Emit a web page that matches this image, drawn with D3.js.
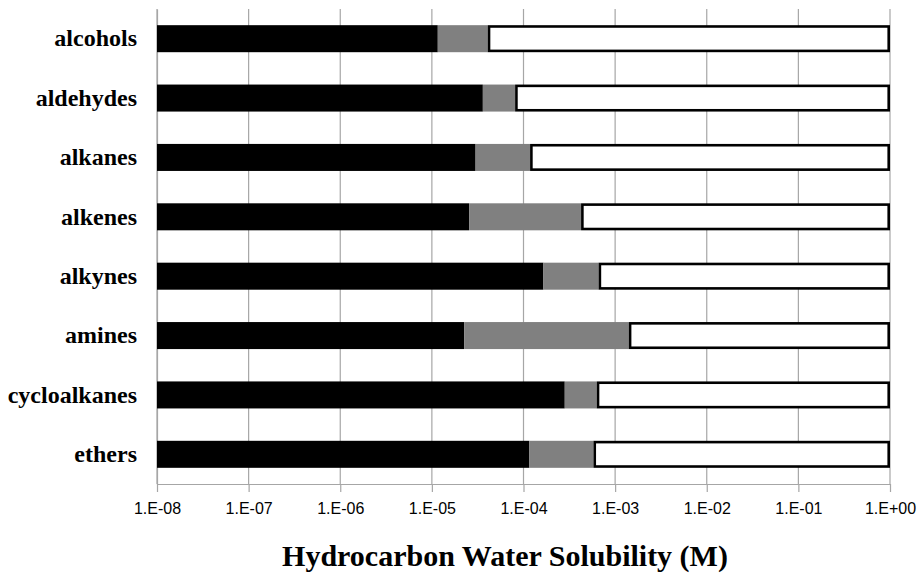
<!DOCTYPE html>
<html lang="en">
<head>
  <meta charset="UTF-8">
  <title>Hydrocarbon Water Solubility</title>
  <script src="https://d3js.org/d3.v7.min.js"></script>
  <style>
    body { margin: 0; background: #fff; }
    .x-axis text { font-family: "Liberation Sans", Arial, sans-serif; font-size: 16px; fill: #000; }
    .y-axis text { font-family: "Liberation Serif", "Times New Roman", serif; font-weight: bold; font-size: 24px; fill: #000; }
    .title { font-family: "Liberation Serif", "Times New Roman", serif; font-weight: bold; font-size: 30px; text-anchor: middle; }
  </style>
</head>
<body>
  <div id="chart"></div>
  <script>
    // values (M)
    const categories = ["alcohols", "aldehydes", "alkanes", "alkenes", "alkynes", "amines", "cycloalkanes", "ethers"];
    const lowValues  = [1.16e-5, 3.6e-5, 3.0e-5, 2.55e-5, 1.65e-4, 2.25e-5, 2.82e-4, 1.16e-4];
    const highValues = [4.07e-5, 8.1e-5, 1.18e-4, 4.25e-4, 6.6e-4, 1.41e-3, 6.3e-4, 5.8e-4];
    const tickValues = [1e-8, 1e-7, 1e-6, 1e-5, 1e-4, 1e-3, 1e-2, 1e-1, 1];
    const tickLabels = ["1.E-08", "1.E-07", "1.E-06", "1.E-05", "1.E-04", "1.E-03", "1.E-02", "1.E-01", "1.E+00"];
    const xMin = 1e-8, xMax = 1;

    const W = 919, H = 574;
    const margin = { top: 9, right: 29, bottom: 90, left: 157 };
    const width = W - margin.left - margin.right,
          height = H - margin.top - margin.bottom;

    const svg = d3.select("#chart").append("svg")
      .attr("width", W).attr("height", H);
    const g = svg.append("g")
      .attr("transform", `translate(${margin.left},${margin.top})`);

    const x = d3.scaleLog().domain([xMin, xMax]).range([0, width]);
    const y = d3.scaleBand().domain(categories).range([0, height])
      .paddingInner(0.545).paddingOuter(0.2725);

    // gridlines
    g.append("g").selectAll("line")
      .data(tickValues)
      .join("line")
      .attr("x1", d => x(d)).attr("x2", d => x(d))
      .attr("y1", 0).attr("y2", height)
      .attr("stroke", "#a6a6a6").attr("stroke-width", 1.2);

    // bottom axis
    const xAxis = g.append("g")
      .attr("class", "x-axis")
      .attr("transform", `translate(0,${height})`)
      .call(d3.axisBottom(x).tickValues(tickValues)
        .tickFormat((d, i) => tickLabels[i]).tickSize(8).tickSizeOuter(0).tickPadding(11));
    xAxis.select(".domain").attr("stroke", "#a6a6a6").attr("stroke-width", 1.2);
    xAxis.selectAll(".tick line").attr("stroke", "#a6a6a6").attr("stroke-width", 1.2);

    // left axis
    const yAxis = g.append("g")
      .attr("class", "y-axis")
      .call(d3.axisLeft(y).tickSize(0).tickPadding(20));
    yAxis.select(".domain").attr("stroke", "#a6a6a6").attr("stroke-width", 1.2);

    const rows = categories.map((c, i) => ({ c, lo: lowValues[i], hi: highValues[i] }));

    // black segment
    g.selectAll(".blk").data(rows).join("rect")
      .attr("x", x(xMin))
      .attr("y", d => y(d.c))
      .attr("width", d => x(d.lo) - x(xMin))
      .attr("height", y.bandwidth())
      .attr("fill", "#000");

    // gray segment
    g.selectAll(".gry").data(rows).join("rect")
      .attr("x", d => x(d.lo))
      .attr("y", d => y(d.c))
      .attr("width", d => x(d.hi) - x(d.lo))
      .attr("height", y.bandwidth())
      .attr("fill", "#808080");

    // white outlined segment
    g.selectAll(".wht").data(rows).join("rect")
      .attr("x", d => x(d.hi) + 1.3)
      .attr("y", d => y(d.c) + 1.3)
      .attr("width", d => x(xMax) - x(d.hi) - 2.6)
      .attr("height", y.bandwidth() - 2.6)
      .attr("fill", "#fff")
      .attr("stroke", "#000")
      .attr("stroke-width", 2.6);

    svg.append("text")
      .attr("class", "title")
      .attr("x", 505)
      .attr("y", 566)
      .text("Hydrocarbon Water Solubility (M)");
  </script>
</body>
</html>
